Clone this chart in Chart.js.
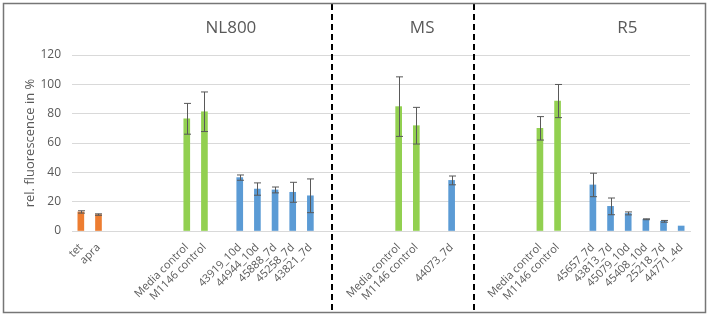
<!DOCTYPE html>
<html>
<head>
<meta charset="utf-8">
<script src="https://cdn.jsdelivr.net/npm/chart.js@4"></script>
<style>
  body { margin: 0; background: #fff; }
  #wrap { width: 709px; height: 316px; position: relative; }
</style>
</head>
<body>
<div id="wrap"><canvas id="myChart"></canvas></div>
<script>
// categories (blank entries are the gaps between groups)
var categories = ['tet', 'apra', '', '', '', '', 'Media control', 'M1146 control', '',
  '43919_10d', '44944_10d', '45888_7d', '45258_7d', '43821_7d', '', '', '', '',
  'Media control', 'M1146 control', '', '44073_7d', '', '', '', '',
  'Media control', 'M1146 control', '', '45657_7d', '43813_7d', '45079_10d', '45408_10d', '25218_7d', '44771_4d'];

// rel. fluorescence in %
var values = [13, 11.2, null, null, null, null, 76.5, 81.3, null,
  36.4, 28.6, 28, 26.4, 24, null, null, null, null,
  84.8, 71.8, null, 34.5, null, null, null, null,
  70, 88.6, null, 31.4, 16.8, 12, 8, 6.6, 3.4];

// error (+/-)
var errors = [0.8, 0.5, null, null, null, null, 10.5, 13.5, null,
  1.8, 4.2, 2, 6.8, 11.5, null, null, null, null,
  20.3, 12.5, null, 3, null, null, null, null,
  8, 11.3, null, 8, 5.7, 1, 0.3, 0.6, 0];

// bar kind: a = antibiotic, c = control, s = strain
var kinds = ['a', 'a', '', '', '', '', 'c', 'c', '',
  's', 's', 's', 's', 's', '', '', '', '',
  'c', 'c', '', 's', '', '', '', '',
  'c', 'c', '', 's', 's', 's', 's', 's', 's'];

// medium titles and where they sit on the category axis
var panelTitles = ['NL800', 'MS', 'R5'];
var panelTitlePos = [8.5, 19.33, 30.95];
// dashed separators (category index)
var separators = [14.25, 22.24];

var yTicks = [0, 20, 40, 60, 80, 100, 120];

var kindColors = { a: '#ED7D31', c: '#92D050', s: '#5B9BD5', '': '#5B9BD5' };
var textGray = '#595959';

var barColors = kinds.map(k => kindColors[k]);

function xAt(scale, idx) {
  var i = Math.floor(idx);
  var a = scale.getPixelForTick(i);
  var b = scale.getPixelForTick(i + 1);
  return a + (b - a) * (idx - i);
}

var extras = {
  id: 'extras',
  afterDatasetsDraw(chart) {
    var ctx = chart.ctx;
    var x = chart.scales.x, y = chart.scales.y;
    // error bars
    ctx.save();
    ctx.strokeStyle = '#595959';
    ctx.lineWidth = 1;
    values.forEach((v, i) => {
      if (v === null || !errors[i]) return;
      var px = Math.round(x.getPixelForValue(i)) + 0.5;
      var top = y.getPixelForValue(v + errors[i]);
      var bot = y.getPixelForValue(v - errors[i]);
      ctx.beginPath();
      ctx.moveTo(px, top); ctx.lineTo(px, bot);
      ctx.moveTo(px - 3.5, top); ctx.lineTo(px + 3.5, top);
      ctx.moveTo(px - 3.5, bot); ctx.lineTo(px + 3.5, bot);
      ctx.stroke();
    });
    ctx.restore();
  },
  afterDraw(chart) {
    var ctx = chart.ctx;
    var x = chart.scales.x;
    ctx.save();
    // separators
    ctx.strokeStyle = '#000';
    ctx.lineWidth = 2;
    ctx.setLineDash([6, 4]);
    separators.forEach(s => {
      var px = Math.round(xAt(x, s));
      ctx.beginPath();
      ctx.moveTo(px, 4); ctx.lineTo(px, 312);
      ctx.stroke();
    });
    ctx.setLineDash([]);
    // panel titles
    ctx.fillStyle = textGray;
    ctx.font = '17px "Open Sans"';
    ctx.textAlign = 'center';
    ctx.textBaseline = 'middle';
    panelTitles.forEach((t, i) => {
      ctx.fillText(t, xAt(x, panelTitlePos[i]), 28);
    });
    // outer frame
    ctx.strokeStyle = '#767676';
    ctx.lineWidth = 1.5;
    ctx.strokeRect(3.5, 3.5, 702, 309);
    ctx.restore();
  }
};

const ctx = document.getElementById('myChart');

const chart = new Chart(ctx, {
  type: 'bar',
  data: {
    labels: categories,
    datasets: [{
      data: values,
      backgroundColor: barColors,
      barThickness: 6,
      skipNull: true
    }]
  },
  options: {
    responsive: true,
    maintainAspectRatio: false,
    animation: false,
    layout: { padding: { left: 0, right: 19, top: 55, bottom: 0 } },
    plugins: {
      legend: { display: false },
      tooltip: { enabled: false }
    },
    scales: {
      x: {
        grid: { display: false },
        border: { color: '#d9d9d9' },
        ticks: {
          color: textGray,
          font: { family: 'Open Sans', size: 11 },
          autoSkip: false,
          minRotation: 45,
          maxRotation: 45,
          padding: 2
        },
        afterFit(scale) { scale.height = 85; }
      },
      y: {
        min: 0,
        max: 120,
        afterBuildTicks(scale) { scale.ticks = yTicks.map(v => ({ value: v })); },
        grid: { color: '#d9d9d9', drawTicks: false },
        border: { display: false },
        ticks: {
          color: textGray,
          font: { family: 'Open Sans', size: 12 },
          padding: 11
        },
        title: {
          display: true,
          text: 'rel. fluorescence in %',
          color: textGray,
          font: { family: 'Open Sans', size: 13 },
          padding: { top: 22, bottom: 0 }
        },
        afterFit(scale) { scale.width = 72; }
      }
    }
  },
  plugins: [extras]
});
</script>
</body>
</html>
